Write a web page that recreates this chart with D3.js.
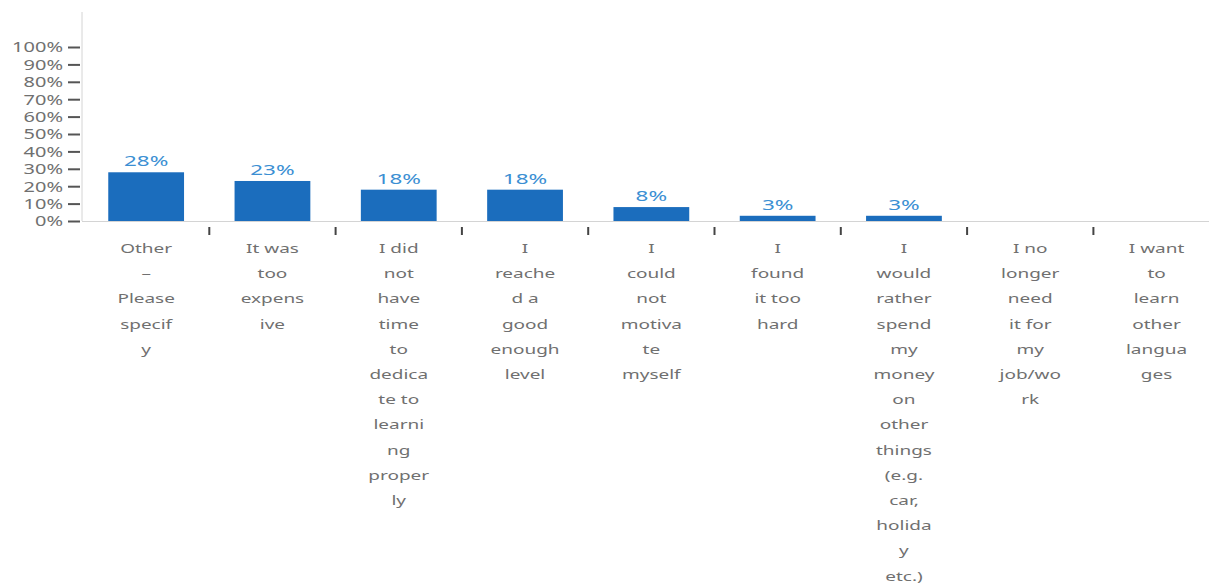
<!DOCTYPE html>
<html>
<head>
<meta charset="utf-8">
<script src="https://cdn.jsdelivr.net/npm/d3@7"></script>
<style>
  html, body { margin: 0; padding: 0; background: #fff; }
  svg { display: block; }
  text { font-family: "Noto Sans", "Liberation Sans", sans-serif; }
</style>
</head>
<body>
<svg id="chart" width="1209" height="585"></svg>
<script>
// Reasons for stopping — share of respondents
const categories = [
  "Other – Please specify",
  "It was too expensive",
  "I did not have time to dedicate to learning properly",
  "I reached a good enough level",
  "I could not motivate myself",
  "I found it too hard",
  "I would rather spend my money on other things (e.g. car, holiday etc.)",
  "I no longer need it for my job/work",
  "I want to learn other languages"
];
const values = [28, 23, 18, 18, 8, 3, 3, 0, 0];
const valueLabels = ["28%", "23%", "18%", "18%", "8%", "3%", "3%", "", ""];
// Category labels as they wrap in the narrow columns
const labelLines = [
  ["Other", "–", "Please", "specif", "y"],
  ["It was", "too", "expens", "ive"],
  ["I did", "not", "have", "time", "to", "dedica", "te to", "learni", "ng", "proper", "ly"],
  ["I", "reache", "d a", "good", "enough", "level"],
  ["I", "could", "not", "motiva", "te", "myself"],
  ["I", "found", "it too", "hard"],
  ["I", "would", "rather", "spend", "my", "money", "on", "other", "things", "(e.g.", "car,", "holida", "y", "etc.)"],
  ["I no", "longer", "need", "it for", "my", "job/wo", "rk"],
  ["I want", "to", "learn", "other", "langua", "ges"]
];
const yTicks = [0, 10, 20, 30, 40, 50, 60, 70, 80, 90, 100];

const svg = d3.select("#chart");
const x0 = 83, step = 126.3;
const x = d3.scaleBand()
  .domain(d3.range(categories.length))
  .range([x0, x0 + step * categories.length])
  .paddingInner(0.4)
  .paddingOuter(0.2);
const y = d3.scaleLinear().domain([0, 100]).range([221, 47]);

// the typeface is set wide: stretch glyphs horizontally
const wide = (sx) => (sel) => sel.attr("transform", function () {
  const px = +this.getAttribute("data-x"), py = +this.getAttribute("data-y");
  return `translate(${px},${py}) scale(${sx},1)`;
});

// vertical axis line
svg.append("line")
  .attr("x1", 82).attr("x2", 82)
  .attr("y1", 12).attr("y2", y(0))
  .attr("stroke", "#d4d4d4").attr("stroke-width", 1);

// baseline
svg.append("line")
  .attr("x1", 82).attr("x2", 1209)
  .attr("y1", y(0) + 0.5).attr("y2", y(0) + 0.5)
  .attr("stroke", "#d4d4d4").attr("stroke-width", 1);

// y axis ticks and labels
const yAxis = d3.axisLeft(y)
  .tickValues(yTicks)
  .tickFormat(d => d + "%")
  .tickSize(0)
  .tickPadding(0);
const gy = svg.append("g").attr("transform", "translate(63,0)").call(yAxis);
gy.select(".domain").remove();
gy.selectAll("text")
  .attr("x", 0)
  .attr("dy", "0.36em")
  .attr("font-size", 13.5)
  .attr("fill", "#707070")
  .attr("transform", "scale(1.48,1)");
gy.selectAll(".tick").append("line")
  .attr("x1", 5).attr("x2", 17)
  .attr("stroke", "#555").attr("stroke-width", 2);

// bars
svg.selectAll("rect.bar")
  .data(values)
  .join("rect")
  .attr("class", "bar")
  .attr("x", (d, i) => x(i))
  .attr("width", x.bandwidth())
  .attr("y", d => y(d))
  .attr("height", d => y(0) - y(d))
  .attr("fill", "#1b6dbd");

// value labels
svg.selectAll("text.val")
  .data(values)
  .join("text")
  .attr("class", "val")
  .attr("data-x", (d, i) => x(i) + x.bandwidth() / 2)
  .attr("data-y", d => y(d) - 6)
  .attr("text-anchor", "middle")
  .attr("font-size", 14.5)
  .attr("fill", "#3b8fd3")
  .text((d, i) => valueLabels[i])
  .call(wide(1.55));

// separators between categories below baseline
svg.selectAll("line.sep")
  .data(d3.range(1, categories.length))
  .join("line")
  .attr("class", "sep")
  .attr("x1", i => x(i) - x.step() * x.paddingInner() / 2)
  .attr("x2", i => x(i) - x.step() * x.paddingInner() / 2)
  .attr("y1", 227).attr("y2", 235)
  .attr("stroke", "#444").attr("stroke-width", 2);

// category labels
const cat = svg.selectAll("g.cat")
  .data(labelLines)
  .join("g")
  .attr("class", "cat")
  .attr("transform", (d, i) => `translate(${x(i) + x.bandwidth() / 2},0)`);
cat.selectAll("text")
  .data(d => d)
  .join("text")
  .attr("data-x", 0)
  .attr("data-y", (d, j) => 253 + j * 25.2)
  .attr("text-anchor", "middle")
  .attr("font-size", 13)
  .attr("fill", "#707070")
  .text(d => d)
  .call(wide(1.46));
</script>
</body>
</html>
